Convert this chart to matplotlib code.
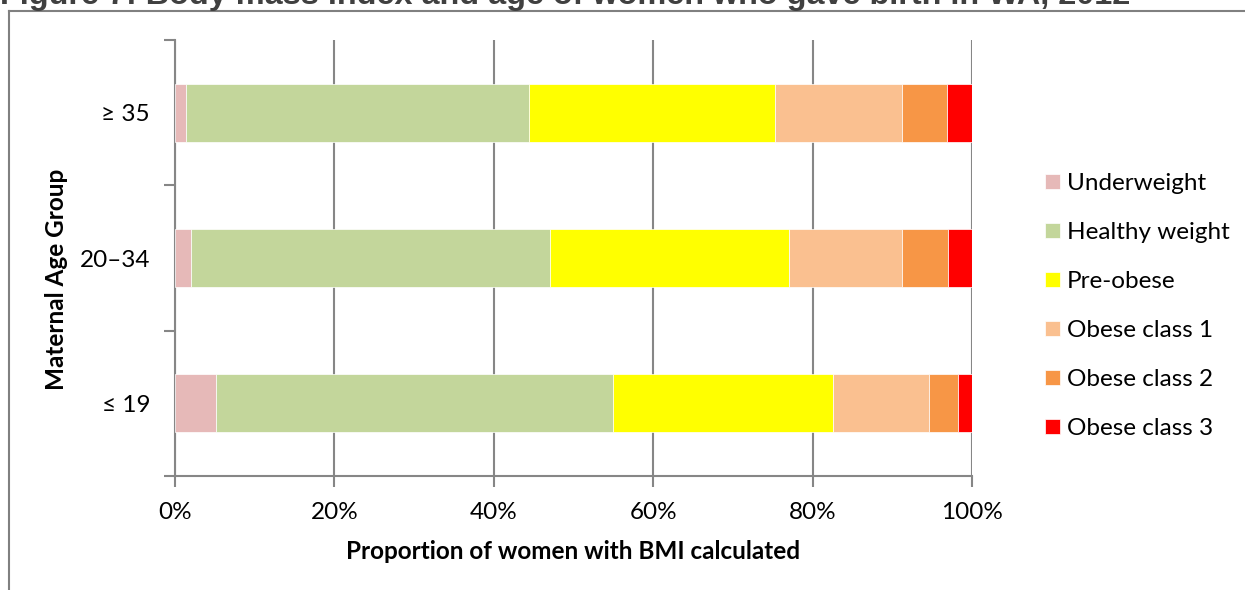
import matplotlib
matplotlib.use('Agg')
import matplotlib.pyplot as plt
from matplotlib.lines import Line2D
import numpy as np

# Data (percent of women with BMI calculated)
age_groups = ['≤ 19', '20–34', '≥ 35']
categories = ['Underweight', 'Healthy weight', 'Pre-obese',
              'Obese class 1', 'Obese class 2', 'Obese class 3']
colors = ['#E6B9B8', '#C3D69B', '#FFFF00', '#FAC090', '#F79646', '#FF0000']

underweight = [5.2, 2.0, 1.4]
healthy = [49.8, 45.1, 43.0]
pre_obese = [27.5, 29.9, 30.9]
obese1 = [12.1, 14.2, 15.9]
obese2 = [3.6, 5.8, 5.7]
obese3 = [1.8, 3.0, 3.1]

series = [underweight, healthy, pre_obese, obese1, obese2, obese3]

plt.rcParams['font.family'] = ['Lato', 'DejaVu Sans']
fs = 17.5

W, H = 1245, 590
fig = plt.figure(figsize=(W / 100, H / 100), dpi=100)
ax = fig.add_axes([175 / W, 1 - 476 / H, (972 - 175) / W, (476 - 40) / H])

grid_c = '#868686'
y = np.arange(len(age_groups))
left = np.zeros(len(age_groups))
for vals, name, c in zip(series, categories, colors):
    ax.barh(y, vals, left=left, height=0.4, color=c, label=name,
            edgecolor='white', linewidth=0.5, zorder=3)
    left += np.array(vals)

ax.set_xlim(0, 100)
ax.set_ylim(-0.5, 2.5)
ax.set_xticks(np.arange(0, 101, 20))
ax.set_xticklabels([f'{v}%' for v in range(0, 101, 20)], fontsize=fs)
ax.set_yticks(y)
ax.set_yticklabels(age_groups, fontsize=fs)
ax.set_yticks([-0.5, 0.5, 1.5, 2.5], minor=True)
ax.tick_params(axis='y', which='major', length=0, pad=18)
ax.tick_params(axis='y', which='minor', length=8, width=1.5, color=grid_c)
ax.tick_params(axis='x', length=8, width=1.5, color=grid_c, pad=11)
ax.xaxis.grid(True, color=grid_c, linewidth=1.5, zorder=0)
ax.set_axisbelow(True)
for s in ['top', 'right']:
    ax.spines[s].set_visible(False)
for s in ['left', 'bottom']:
    ax.spines[s].set_color(grid_c)
    ax.spines[s].set_linewidth(1.5)

ax.set_xlabel('Proportion of women with BMI calculated', fontsize=fs,
              fontweight='bold', labelpad=12)
ax.set_ylabel('Maternal Age Group', fontsize=fs, fontweight='bold')
ax.yaxis.set_label_coords(-0.134, 0.45)

ax.legend(loc='center left', bbox_to_anchor=(1.08, 0.39), frameon=False,
          fontsize=fs, handlelength=0.58, handleheight=0.58, handletextpad=0.3,
          labelspacing=1.15, borderaxespad=0)

# outer frame (cut off at right and bottom)
fig.add_artist(Line2D([9 / W, 9 / W], [0, 1 - 11 / H], color='#808080',
                      linewidth=1.5, transform=fig.transFigure))
fig.add_artist(Line2D([9 / W, 1], [1 - 11 / H, 1 - 11 / H], color='#808080',
                      linewidth=1.5, transform=fig.transFigure))

fig.text(0, 1 - 4 / H, 'Figure 7: Body mass index and age of women who gave birth in WA, 2012',
         fontsize=23.3, fontweight='bold', color='#404040', family='Liberation Sans',
         ha='left', va='baseline')

fig.savefig('out.png', dpi=100)
